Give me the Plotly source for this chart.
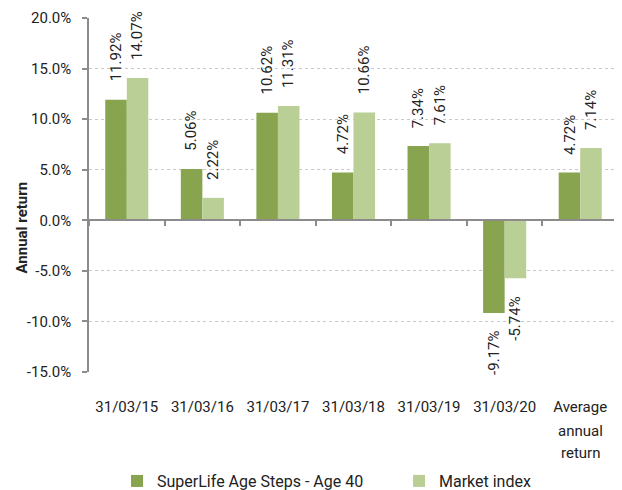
import plotly.graph_objects as go

categories = ["31/03/15", "31/03/16", "31/03/17", "31/03/18", "31/03/19", "31/03/20", "Average"]
extra_label_lines = ["annual", "return"]  # continuation of the last category label
superlife = [11.92, 5.06, 10.62, 4.72, 7.34, -9.17, 4.72]
market = [14.07, 2.22, 11.31, 10.66, 7.61, -5.74, 7.14]
series_names = ["SuperLife Age Steps - Age 40", "Market index"]
y_ticks = [-15, -10, -5, 0, 5, 10, 15, 20]
y_tick_labels = [f"{v:.1f}%" for v in y_ticks]

DARK = "#88A44E"
LIGHT = "#B9CF96"
AXIS = "#8C8C8C"
TXT = "#222222"
FONT = "Roboto"

xs = list(range(len(categories)))
ymin, ymax = -15, 20

# page body adds an 8px offset; figure sized to fit the 622x490 window
W, H = 614, 482
L, R, T, B = 81, 4, 10, 118
PW, PH = W - L - R, H - T - B
BARGAP = 0.43
bar_w_px = PW / len(categories) * (1 - BARGAP) / 2
LABEL_GAP = 16

fig = go.Figure()
annotations = []
series = [(series_names[0], superlife, DARK, -0.5), (series_names[1], market, LIGHT, 0.5)]
for k, (name, vals, col, side) in enumerate(series):
    fig.add_trace(go.Bar(
        x=xs, y=vals, name=name,
        marker=dict(color=col, line=dict(width=0)),
        legend="legend" if k == 0 else "legend2",
    ))
    for xi, v in zip(xs, vals):
        annotations.append(dict(
            x=xi, y=v, xref="x", yref="y", text=f"{v:.2f}%", textangle=-90,
            xshift=side * bar_w_px, yshift=LABEL_GAP if v >= 0 else -LABEL_GAP,
            xanchor="center", yanchor="bottom" if v >= 0 else "top",
            showarrow=False, font=dict(family=FONT, size=15, color=TXT)))

# continuation lines of the last category label
for j, line in enumerate(extra_label_lines):
    annotations.append(dict(
        x=xs[-1], xref="x", yref="paper", y=-(36 + 22.5 * (j + 1)) / PH,
        text=line, xanchor="center", yanchor="middle", showarrow=False,
        font=dict(family=FONT, size=15, color=TXT)))

annotations.append(dict(text="<b>Annual return</b>", textangle=-90, xref="paper", yref="paper",
                        x=(13 - L) / PW, y=(T + PH - 219.5) / PH, xanchor="center", yanchor="middle",
                        showarrow=False, font=dict(family=FONT, size=15, color=TXT)))

legend_common = dict(orientation="h", xanchor="left", y=-0.26, yanchor="top",
                     font=dict(family=FONT, size=16, color=TXT), bgcolor="rgba(0,0,0,0)")

fig.update_layout(
    width=W, height=H,
    margin=dict(l=L, r=R, t=T, b=B, autoexpand=False),
    paper_bgcolor="white", plot_bgcolor="white",
    barmode="group", bargap=BARGAP, bargroupgap=0,
    font=dict(family=FONT, size=15, color=TXT),
    showlegend=True,
    legend=dict(x=0.053, **legend_common),
    legend2=dict(x=0.586, **legend_common),
    xaxis=dict(range=[-0.5, len(categories) - 0.5], tickvals=xs, ticktext=categories,
               showline=False, showgrid=False, zeroline=False, automargin=False,
               ticks="outside", ticklen=0, ticklabelstandoff=21,
               tickfont=dict(family=FONT, size=15, color=TXT)),
    xaxis2=dict(range=[-0.5, len(categories) - 0.5], overlaying="x", anchor="free",
                position=(0 - ymin) / (ymax - ymin), side="bottom",
                tickvals=[i - 0.5 for i in range(len(categories) + 1)], showticklabels=False,
                showline=True, linecolor=AXIS, linewidth=1.5,
                ticks="outside", ticklen=5, tickcolor=AXIS, tickwidth=1.5,
                showgrid=False, zeroline=False),
    yaxis=dict(range=[ymin, ymax], tickvals=y_ticks, ticktext=y_tick_labels,
               showline=True, linecolor=AXIS, linewidth=1.5, automargin=False,
               ticks="outside", ticklen=5, tickcolor=AXIS, tickwidth=1.5, ticklabelstandoff=8,
               showgrid=True, gridcolor="#C8C8C8", griddash="dot", gridwidth=1,
               zeroline=False, tickfont=dict(family=FONT, size=15, color=TXT)),
    annotations=annotations,
)
# invisible trace to activate xaxis2
fig.add_trace(go.Scatter(x=[0], y=[0], xaxis="x2", mode="markers", marker=dict(opacity=0),
                         showlegend=False, hoverinfo="skip"))

fig.write_html("out.html")
